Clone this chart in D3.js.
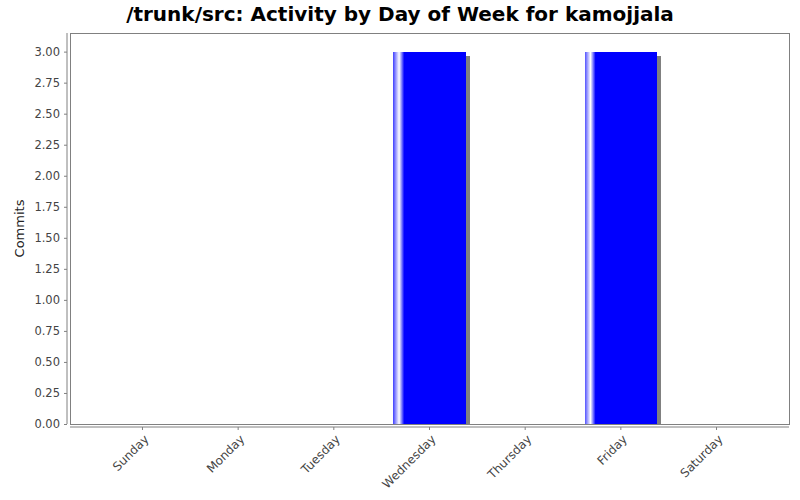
<!DOCTYPE html>
<html>
<head>
<meta charset="utf-8">
<script src="https://cdn.jsdelivr.net/npm/d3@7"></script>
<style>
  body { margin: 0; background: #fff; }
  text { font-family: "DejaVu Sans", sans-serif; }
</style>
</head>
<body>
<div id="chart"></div>
<script>
const days = ["Sunday", "Monday", "Tuesday", "Wednesday", "Thursday", "Friday", "Saturday"];
const commits = [0, 0, 0, 3, 0, 3, 0];
const yTicks = [0, 0.25, 0.5, 0.75, 1, 1.25, 1.5, 1.75, 2, 2.25, 2.5, 2.75, 3];

const W = 800, H = 500;
const plot = { left: 70, right: 789, top: 33, bottom: 424 };

const svg = d3.select("#chart").append("svg")
  .attr("width", W).attr("height", H);

const defs = svg.append("defs");
const grad = defs.append("linearGradient").attr("id", "barGrad")
  .attr("x1", "0%").attr("x2", "100%").attr("y1", "0%").attr("y2", "0%");
grad.append("stop").attr("offset", "0%").attr("stop-color", "#4a4aff");
grad.append("stop").attr("offset", "8%").attr("stop-color", "#ffffff");
grad.append("stop").attr("offset", "15%").attr("stop-color", "#0000ff");
grad.append("stop").attr("offset", "100%").attr("stop-color", "#0000ff");

defs.append("clipPath").attr("id", "plotClip").append("rect")
  .attr("x", plot.left).attr("y", plot.top)
  .attr("width", plot.right - plot.left).attr("height", plot.bottom - plot.top);

const x = d3.scaleBand().domain(days)
  .range([plot.left, plot.right])
  .paddingInner(0.245).paddingOuter(0.38);

const y = d3.scaleLinear().domain([0, 3.15]).range([plot.bottom, plot.top]);

// title
svg.append("text")
  .attr("x", W / 2).attr("y", 21)
  .attr("text-anchor", "middle")
  .style("font-size", "20px").style("font-weight", "bold")
  .text("/trunk/src: Activity by Day of Week for kamojjala");

// plot background / border
svg.append("rect")
  .attr("x", plot.left).attr("y", plot.top)
  .attr("width", plot.right - plot.left).attr("height", plot.bottom - plot.top)
  .attr("fill", "#fff").attr("stroke", "#808080").attr("stroke-width", 1)
  .attr("shape-rendering", "crispEdges");

const barData = days.map((d, i) => ({ day: d, v: commits[i] })).filter(d => d.v > 0);
const bars = svg.append("g").attr("clip-path", "url(#plotClip)");

// shadows
bars.selectAll(".shadow").data(barData)
  .join("rect").attr("class", "shadow")
  .attr("x", d => x(d.day) + 4)
  .attr("y", d => y(d.v) + 4)
  .attr("width", x.bandwidth())
  .attr("height", d => plot.bottom - y(d.v))
  .attr("fill", "#808080")
  .attr("shape-rendering", "crispEdges");

bars.selectAll(".bar").data(barData)
  .join("rect").attr("class", "bar")
  .attr("x", d => x(d.day))
  .attr("y", d => y(d.v))
  .attr("width", x.bandwidth())
  .attr("height", d => plot.bottom - y(d.v))
  .attr("fill", "url(#barGrad)")
  .attr("shape-rendering", "crispEdges");

// y axis
const yAxis = svg.append("g")
  .attr("transform", `translate(${plot.left - 3},0)`)
  .call(d3.axisLeft(y).tickValues(yTicks).tickFormat(d3.format(".2f")).tickSizeInner(3).tickSizeOuter(0).tickPadding(4));
yAxis.select(".domain").attr("stroke", "#808080").attr("d", `M0,${plot.top}V${plot.bottom}`);
yAxis.selectAll(".tick line").attr("stroke", "#808080");
yAxis.selectAll(".tick text").attr("fill", "#444").style("font-size", "11.5px");

svg.append("text")
  .attr("transform", `translate(24,${(plot.top + plot.bottom) / 2}) rotate(-90)`)
  .attr("text-anchor", "middle")
  .style("font-size", "13px").attr("fill", "#222")
  .text("Commits");

// x axis
const xAxis = svg.append("g")
  .attr("transform", `translate(0,${plot.bottom + 3})`)
  .call(d3.axisBottom(x).tickSizeInner(3).tickSizeOuter(0));
xAxis.select(".domain").attr("stroke", "#808080").attr("d", `M${plot.left},0H${plot.right}`);
xAxis.selectAll(".tick line").attr("stroke", "#808080");
xAxis.selectAll(".tick text")
  .attr("fill", "#444").style("font-size", "12px")
  .attr("text-anchor", "end")
  .attr("dy", null).attr("y", null)
  .attr("transform", "translate(7,13) rotate(-45)");
</script>
</body>
</html>
